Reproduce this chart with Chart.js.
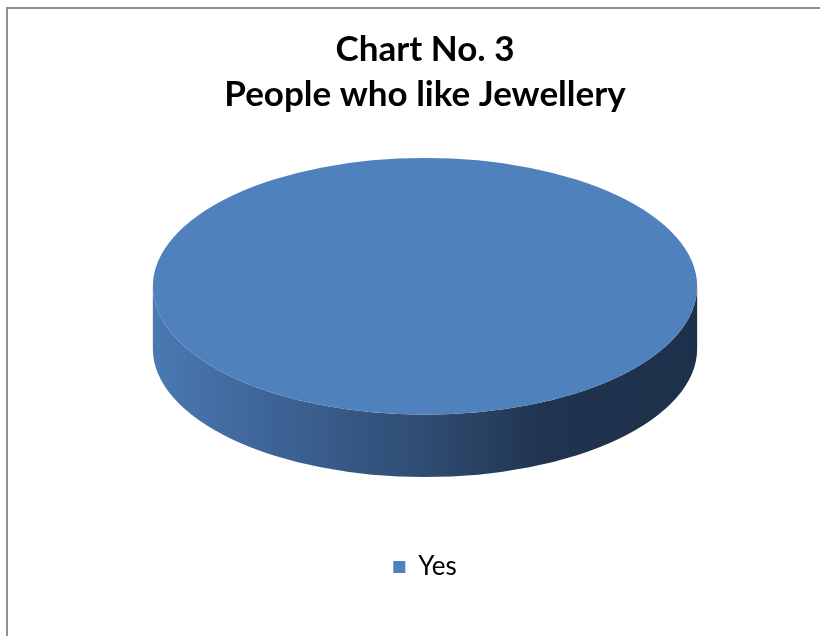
<!DOCTYPE html>
<html>
<head>
<meta charset="utf-8">
<script src="https://cdn.jsdelivr.net/npm/chart.js@4/dist/chart.umd.min.js"></script>
<style>
  html, body { margin: 0; padding: 0; background: #fff; overflow: hidden; }
  #frame { position: absolute; left: 6px; top: 7px; width: 900px; height: 700px; border: 2px solid #8e8e8e; }
  #pieChart { position: absolute; left: 0; top: 0; }
</style>
</head>
<body>
<div id="frame"></div>
<canvas id="pieChart" width="820" height="636"></canvas>
<script>
const categories = ['Yes'];
const answers = [100];
const sliceColors = ['#4f81bd'];
const titleLines = ['Chart No. 3', 'People who like Jewellery'];

// look of the fake 3D pie
const STRETCH = 1.385;  // horizontal radius / library radius
const TILT = 0.472;     // vertical / horizontal radius of top face
const DEPTH = 0.229;    // side height / horizontal radius

function pieGeom(chart, arc) {
    const rx = arc.outerRadius * STRETCH;
    const ry = rx * TILT;
    const depth = rx * DEPTH;
    return { cx: arc.x, cy: arc.y - depth / 2, rx: rx, ry: ry, depth: depth };
}

const pie3d = {
    id: 'pie3d',
    beforeDatasetsDraw(chart) {
        const ctx = chart.ctx;
        const arcs = chart.getDatasetMeta(0).data;
        if (!arcs.length) return;
        const g = pieGeom(chart, arcs[0]);

        // side walls of the front half
        arcs.forEach(function (arc) {
            let a0 = arc.startAngle, a1 = arc.endAngle;
            const full = (a1 - a0) >= Math.PI * 2 - 1e-6;
            if (full) { a0 = 0; a1 = Math.PI; }
            else {
                const t = Math.PI * 2;
                a0 = ((a0 % t) + t) % t; a1 = a0 + (arc.endAngle - arc.startAngle);
                a0 = Math.max(a0, 0); a1 = Math.min(a1, Math.PI);
                if (a1 <= a0) return;
            }
            const grad = ctx.createLinearGradient(g.cx - g.rx, 0, g.cx + g.rx, 0);
            grad.addColorStop(0, '#4a79b2');
            grad.addColorStop(0.25, '#3c6193');
            grad.addColorStop(0.5, '#2f4c72');
            grad.addColorStop(0.72, '#20344f');
            grad.addColorStop(1, '#1e314b');
            ctx.save();
            ctx.beginPath();
            ctx.ellipse(g.cx, g.cy, g.rx, g.ry, 0, a0, a1, false);
            ctx.ellipse(g.cx, g.cy + g.depth, g.rx, g.ry, 0, a1, a0, true);
            ctx.closePath();
            ctx.fillStyle = grad;
            ctx.fill();
            ctx.restore();
        });

        // squash the library's circle into the top face
        const arc = arcs[0];
        ctx.save();
        ctx.translate(g.cx, g.cy);
        ctx.scale(g.rx / arc.outerRadius, g.ry / arc.outerRadius);
        ctx.translate(-arc.x, -arc.y);
    },
    afterDatasetsDraw(chart) {
        if (chart.getDatasetMeta(0).data.length) chart.ctx.restore();
    }
};

new Chart(document.getElementById('pieChart'), {
    type: 'pie',
    data: {
        labels: categories,
        datasets: [{
            data: answers,
            backgroundColor: sliceColors,
            borderWidth: 0
        }]
    },
    options: {
        responsive: false,
        animation: false,
        layout: { padding: { left: 30, right: 0, top: 0, bottom: 46 } },
        plugins: {
            tooltip: { enabled: false },
            title: {
                display: true,
                text: titleLines,
                color: '#000',
                font: { family: 'Lato', size: 35, weight: 'bold', lineHeight: '45px' },
                padding: { top: 27, bottom: 4 }
            },
            legend: {
                position: 'bottom',
                labels: {
                    boxWidth: 12,
                    boxHeight: 12,
                    padding: 40,
                    color: '#000',
                    font: { family: 'Lato', size: 26 }
                }
            }
        }
    },
    plugins: [pie3d]
});
</script>
</body>
</html>
